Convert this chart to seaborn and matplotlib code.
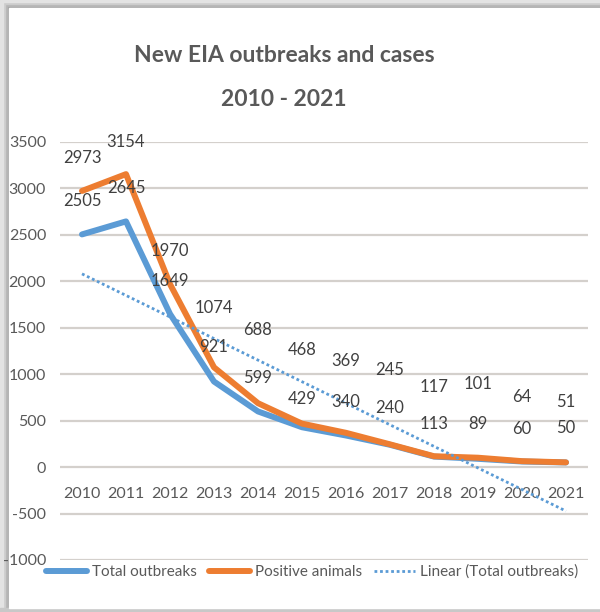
import numpy as np
import pandas as pd
import matplotlib
matplotlib.use("Agg")
import matplotlib.pyplot as plt
from matplotlib.patches import Rectangle
from matplotlib.lines import Line2D
import seaborn as sns

# ---- data ----
years = ["2010", "2011", "2012", "2013", "2014", "2015", "2016", "2017", "2018", "2019", "2020", "2021"]
total_outbreaks = [2505, 2645, 1649, 921, 599, 429, 340, 240, 113, 89, 60, 50]
positive_animals = [2973, 3154, 1970, 1074, 688, 468, 369, 245, 117, 101, 64, 51]
y_ticks = [-1000, -500, 0, 500, 1000, 1500, 2000, 2500, 3000, 3500]

# label offsets (pixels above point)
pos_label_off = [33, 32, 33, 59, 73, 74, 72, 74, 69, 74, 64, 60]
tot_label_off = [33, 33, 33, 35, 33, 28, 34, 37, 33, 35, 33, 34]

sns.set_style("white")
FONT = ["Lato", "DejaVu Sans"]
plt.rcParams["font.family"] = FONT

BLUE = "#5B9BD5"
ORANGE = "#ED7D31"
GRID = "#D4D0CC"
TXT = "#595959"
LBL = "#404040"

fig = plt.figure(figsize=(6.0, 6.12), dpi=100)
fig.patch.set_facecolor("white")

# frame (shadowed border)
for i, c in enumerate(["#a0a0a0", "#b5b5b5", "#cccccc", "#e3e3e3"]):
    fig.patches.append(Rectangle((0, 1 - (8 - 2 * i) / 612), 1, (8 - 2 * i) / 612,
                                 transform=fig.transFigure, color=c, zorder=-3))
    fig.patches.append(Rectangle((0, 0), (9 - 2 * i) / 600, 1,
                                 transform=fig.transFigure, color=c, zorder=-3))
fig.patches.append(Rectangle((0, 0), 1, 4 / 612, transform=fig.transFigure, color="#c8c8c8", zorder=-3))
fig.patches.append(Rectangle((9 / 600, 4 / 612), 1 - 9 / 600, 1 - 12 / 612,
                             transform=fig.transFigure, color="white", zorder=-2))

ax = fig.add_axes([0.10, 0.085, 0.88, 0.683])
ax.set_facecolor("none")
ax.set_zorder(1)

x = np.arange(len(years))
df = pd.DataFrame({"x": np.concatenate([x, x]),
                   "value": total_outbreaks + positive_animals,
                   "series": ["Total outbreaks"] * len(x) + ["Positive animals"] * len(x)})

sns.lineplot(data=df, x="x", y="value", hue="series",
             palette={"Total outbreaks": BLUE, "Positive animals": ORANGE},
             linewidth=4.3, ax=ax, legend=False, zorder=3)

# linear trend of total outbreaks
coef = np.polyfit(x, total_outbreaks, 1)
trend = np.polyval(coef, x)
sns.lineplot(x=x, y=trend, color=BLUE, linestyle=(0, (1, 1)), linewidth=2.0, ax=ax, zorder=4)

ax.set_xlim(-0.5, 11.5)
ax.set_ylim(-1000, 3500)
ax.set_yticks(y_ticks)
ax.set_yticklabels([str(v) for v in y_ticks])
ax.set_xticks(x)
ax.set_xticklabels(years)
ax.grid(axis="y", color=GRID, linewidth=1.6)
ax.set_axisbelow(True)
for s in ax.spines.values():
    s.set_visible(False)
ax.spines["bottom"].set_position(("data", 0))
ax.tick_params(axis="both", length=0, labelsize=11.5, labelcolor=TXT)
ax.tick_params(axis="x", pad=14)
ax.tick_params(axis="y", pad=10)
ax.set_xlabel("")
ax.set_ylabel("")

# data labels
for xi, v, off in zip(x, positive_animals, pos_label_off):
    ax.annotate(str(v), (xi, v), xytext=(0, off), textcoords="offset pixels",
                ha="center", va="center", fontsize=12, color=LBL, zorder=5)
for xi, v, off in zip(x, total_outbreaks, tot_label_off):
    ax.annotate(str(v), (xi, v), xytext=(0, off), textcoords="offset pixels",
                ha="center", va="center", fontsize=12, color=LBL, zorder=5)

# title
fig.text(284 / 600, 1 - 55 / 612, "New EIA outbreaks and cases", ha="center", va="center",
         fontsize=16.5, fontweight="bold", color=TXT)
fig.text(284 / 600, 1 - 100 / 612, "2010 - 2021", ha="center", va="center",
         fontsize=16.5, fontweight="bold", color=TXT)

# legend
handles = [Line2D([], [], color=BLUE, linewidth=4.3),
           Line2D([], [], color=ORANGE, linewidth=4.3),
           Line2D([], [], color=BLUE, linewidth=2.0, linestyle=(0, (1, 1)))]
labels = ["Total outbreaks", "Positive animals", "Linear (Total outbreaks)"]
leg = fig.legend(handles, labels, loc="center", bbox_to_anchor=(312 / 600, 1 - 572 / 612),
                 ncol=3, frameon=False, fontsize=11, labelcolor=TXT,
                 handlelength=2.7, handletextpad=0.3, columnspacing=0.8)
leg.set_zorder(6)

fig.savefig("out.png", dpi=100)
